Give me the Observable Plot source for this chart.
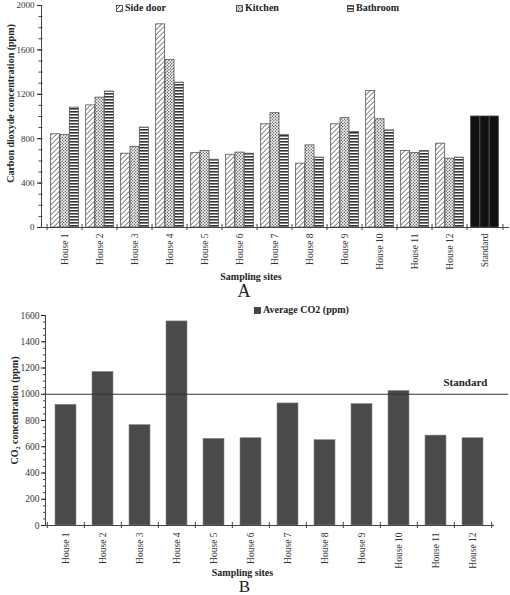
<!DOCTYPE html>
<html><head><meta charset="utf-8">
<script src="https://cdn.jsdelivr.net/npm/d3@7"></script>
<script src="https://cdn.jsdelivr.net/npm/@observablehq/plot@0.6"></script>
<style>
body{margin:0;background:#fff;}
#wrap{position:relative;width:510px;height:595px;font-family:'Liberation Serif','Times New Roman',Times,'DejaVu Serif',serif;overflow:hidden}
#wrap svg.plotsvg{display:block}
#wrap svg.plotsvg text{font-family:'Liberation Serif','Times New Roman',Times,'DejaVu Serif',serif}
.leg{position:absolute;font-weight:bold;font-size:10px;color:#222;display:flex;align-items:center;white-space:nowrap;line-height:1;height:10px}
.leg svg{margin-right:2px}
</style></head><body>
<svg width="0" height="0" style="position:absolute;left:0;top:0">
<defs>
<pattern id="hatch" patternUnits="userSpaceOnUse" width="5" height="5">
<rect width="5" height="5" fill="#fff"/>
<path d="M-1,1 l2,-2 M0,5 l5,-5 M4,6 l2,-2" stroke="#333" stroke-width="0.8"/>
</pattern>
<pattern id="dots" patternUnits="userSpaceOnUse" width="3" height="3">
<rect width="3" height="3" fill="#fff"/>
<circle cx="0.8" cy="0.8" r="0.7" fill="#444"/>
<circle cx="2.3" cy="2.3" r="0.7" fill="#444"/>
</pattern>
<pattern id="hlines" patternUnits="userSpaceOnUse" width="4" height="3">
<rect width="4" height="3" fill="#fff"/>
<rect width="4" height="1.6" fill="#333"/>
</pattern>
</defs></svg>
<div id="wrap"></div>
<script>
// ---- data ----
const sites = ["House 1","House 2","House 3","House 4","House 5","House 6","House 7","House 8","House 9","House 10","House 11","House 12","Standard"];
const seriesNames = ["Side door","Kitchen","Bathroom"];
const sideDoor = [840, 1100, 665, 1830, 670, 655, 930, 575, 930, 1230, 690, 755, 1000];
const kitchen  = [835, 1170, 725, 1510, 690, 675, 1030, 740, 985, 975, 670, 620, 1000];
const bathroom = [1080, 1225, 900, 1305, 610, 665, 835, 630, 860, 875, 690, 630, 1000];
const houses = sites.slice(0, 12);
const average = [920, 1170, 765, 1555, 660, 665, 930, 650, 925, 1025, 685, 665];
const standardValue = 1000;
const yTicksA = [0, 400, 800, 1200, 1600, 2000];
const yMinorA = d3.range(0, 2001, 100);
const yTicksB = [0, 200, 400, 600, 800, 1000, 1200, 1400, 1600];
const yMinorB = d3.range(0, 1601, 50);
const labelA = "Carbon dioxyde concentration (ppm)";
const labelB = "CO\u2082 concentration (ppm)";
const xTitle = "Sampling sites";
const legendB = "Average CO2 (ppm)";

const seriesValues = {"Side door": sideDoor, "Kitchen": kitchen, "Bathroom": bathroom};
const patterns = {"Side door": "url(#hatch)", "Kitchen": "url(#dots)", "Bathroom": "url(#hlines)"};
const rowsA = seriesNames.flatMap(s => sites.map((site, i) => ({site, series: s, value: seriesValues[s][i]})));
const rowsB = houses.map((site, i) => ({site, value: average[i]}));

const serif = "'Liberation Serif','Times New Roman',Times,'DejaVu Serif',serif";
const wrap = document.getElementById("wrap");
const fmt = d => String(d);

// ---- chart A ----
const mlA = 41, mrA = 2, W = 510;
const stepA = (W - mlA - mrA) / sites.length;
const bwA = stepA * 0.26;
const plotA = Plot.plot({
  width: W, height: 300, marginLeft: mlA, marginRight: mrA, marginTop: 5, marginBottom: 73,
  style: {fontFamily: serif, fontSize: "10px", color: "#222", background: "white"},
  x: {type: "band", domain: sites, paddingInner: 0.74, paddingOuter: 0.37, label: null, axis: null},
  y: {domain: [0, 2000], label: null, axis: null},
  marks: [
    ...seriesNames.map((s, k) => Plot.barY(rowsA.filter(d => d.series === s && d.site !== "Standard"),
      {x: "site", y: "value", fill: patterns[s], stroke: "#555", strokeWidth: 0.8, dx: (k - 1) * bwA})),
    ...seriesNames.map((s, k) => Plot.barY(rowsA.filter(d => d.series === s && d.site === "Standard"),
      {x: "site", y: "value", fill: "#111", stroke: "#444", strokeWidth: 0.8, dx: (k - 1) * bwA})),
    Plot.axisY({ticks: yMinorA, tickSize: 4, dx: 1.5, text: null, label: null, stroke: "#444"}),
    Plot.axisY({ticks: yTicksA, tickSize: 4, tickPadding: 3, tickFormat: fmt, fontSize: 9, label: null, fill: "#333"}),
    Plot.axisX({tickRotate: -90, tickSize: 0, tickPadding: 6, fontSize: 9.5, label: null, fill: "#333"}),
    Plot.axisX({ticks: sites, tickSize: 6, dy: -3, dx: -stepA / 2, text: null, label: null, stroke: "#444"}),
    Plot.axisX({ticks: [sites[sites.length - 1]], tickSize: 6, dy: -3, dx: stepA / 2, text: null, label: null, stroke: "#444"}),
    Plot.frame({anchor: "left", stroke: "#444"}),
    Plot.frame({anchor: "bottom", stroke: "#444"}),
    Plot.text([labelA], {frameAnchor: "left", textAnchor: "middle", lineAnchor: "middle", text: d => d, rotate: -90, dx: -31, dy: -13, fontWeight: "bold", fontSize: 10, fill: "#222"}),
    Plot.text([xTitle], {frameAnchor: "bottom", textAnchor: "middle", lineAnchor: "middle", text: d => d, dy: 49, dx: -24, fontWeight: "bold", fontSize: 10, fill: "#222"}),
    Plot.text(["A"], {frameAnchor: "bottom", textAnchor: "middle", lineAnchor: "middle", text: d => d, dy: 64, dx: -31, fontSize: 18, fill: "#222"})
  ]
});
plotA.classList.add("plotsvg");
wrap.appendChild(plotA);

// ---- chart B ----
const mlB = 45, mrB = 17;
const stepB = (W - mlB - mrB) / houses.length;
const plotB = Plot.plot({
  width: W, height: 295, marginLeft: mlB, marginRight: mrB, marginTop: 15, marginBottom: 70,
  style: {fontFamily: serif, fontSize: "10px", color: "#222", background: "white"},
  x: {type: "band", domain: houses, paddingInner: 0.44, paddingOuter: 0.22, label: null, axis: null},
  y: {domain: [0, 1600], label: null, axis: null},
  marks: [
    Plot.barY(rowsB, {x: "site", y: "value", fill: "#4a4a4a", stroke: "#8a8a8a", strokeWidth: 0.6}),
    Plot.ruleY([standardValue], {stroke: "#333", strokeWidth: 1, insetRight: -15}),
    Plot.text([standardValue], {y: d => d, frameAnchor: "right", textAnchor: "end", lineAnchor: "middle", dx: -6, dy: -12, text: () => "Standard", fontWeight: "bold", fontSize: 11, fill: "#222"}),
    Plot.axisY({ticks: yMinorB, tickSize: 3, dx: 1, text: null, label: null, stroke: "#444"}),
    Plot.axisY({ticks: yTicksB, tickSize: 4, tickPadding: 2, tickFormat: fmt, fontSize: 9.5, label: null, fill: "#333"}),
    Plot.axisX({tickRotate: -90, tickSize: 0, tickPadding: 7, fontSize: 9.5, label: null, fill: "#333"}),
    Plot.axisX({ticks: houses, tickSize: 6, dy: -3, dx: -stepB / 2, text: null, label: null, stroke: "#444"}),
    Plot.axisX({ticks: [houses[houses.length - 1]], tickSize: 6, dy: -3, dx: stepB / 2, text: null, label: null, stroke: "#444"}),
    Plot.frame({anchor: "left", stroke: "#444"}),
    Plot.frame({anchor: "bottom", stroke: "#444"}),
    Plot.text([labelB], {frameAnchor: "left", textAnchor: "middle", lineAnchor: "middle", text: d => d, rotate: -90, dx: -31, dy: -10, fontWeight: "bold", fontSize: 10, fill: "#222"}),
    Plot.text([xTitle], {frameAnchor: "bottom", textAnchor: "middle", lineAnchor: "middle", text: d => d, dy: 47, dx: -27, fontWeight: "bold", fontSize: 10, fill: "#222"}),
    Plot.text(["B"], {frameAnchor: "bottom", textAnchor: "middle", lineAnchor: "middle", text: d => d, dy: 61, dx: -25, fontSize: 17, fill: "#222"})
  ]
});
plotB.classList.add("plotsvg");
wrap.appendChild(plotB);

// ---- legends (HTML overlay) ----
function addLegend(label, fill, left, top) {
  const d = document.createElement("div");
  d.className = "leg";
  d.style.left = left + "px";
  d.style.top = top + "px";
  d.innerHTML = `<svg width="7" height="7"><rect x="0.5" y="0.5" width="6" height="6" fill="${fill}" stroke="#333" stroke-width="0.8"/></svg><span>${label}</span>`;
  wrap.appendChild(d);
}
const legendLeftA = [116, 236, 347];
seriesNames.forEach((s, k) => addLegend(s, patterns[s], legendLeftA[k], 3));
addLegend(legendB, "#444", 254, 305);
</script>
</body></html>
